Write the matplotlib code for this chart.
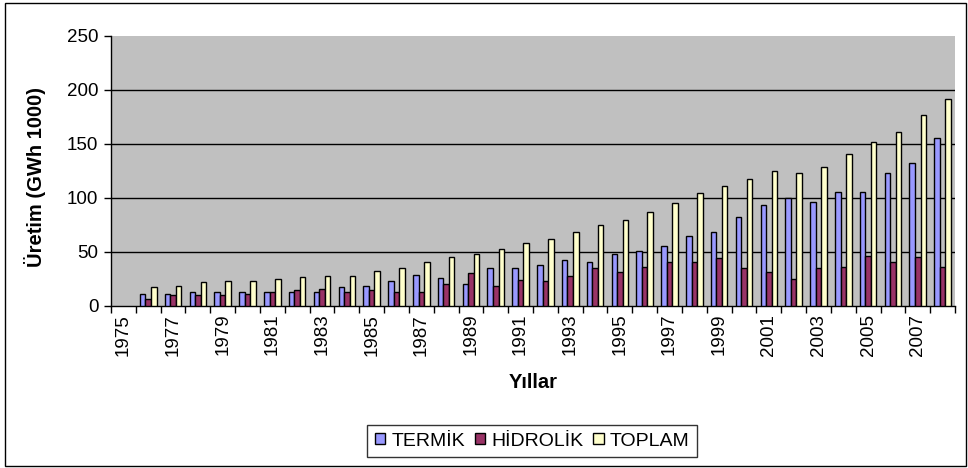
import numpy as np
import matplotlib
matplotlib.use("Agg")
import matplotlib.pyplot as plt
from matplotlib.patches import Rectangle

plt.rcParams['font.family'] = ['Liberation Sans', 'DejaVu Sans']

# values (GWh x 1000), 1975 has no bars
years = list(range(1975, 2009))
termik = [np.nan, 11.0, 11.0, 12.5, 12.5, 12.5, 12.5, 12.5, 12.5, 17.0, 18.4,
          23.0, 28.6, 25.8, 20.0, 34.5, 34.8, 37.6, 42.0, 40.4, 47.5, 50.9,
          55.2, 64.5, 68.5, 82.2, 93.6, 99.5, 96.4, 105.4, 105.4, 123.3, 132.3, 155.8]
hidrolik = [np.nan, 6.3, 9.7, 9.7, 9.7, 11.0, 12.5, 14.1, 15.6, 12.2, 14.1,
            12.2, 12.2, 20.0, 30.2, 18.4, 24.0, 22.7, 27.1, 34.5, 31.4, 36.0,
            40.5, 40.7, 43.8, 34.5, 31.4, 24.3, 34.5, 36.0, 46.3, 40.7, 44.7, 36.0]
toplam = [np.nan, 17.2, 18.4, 21.5, 22.7, 22.7, 24.3, 26.2, 27.4, 27.3, 31.7,
          34.6, 40.7, 44.7, 48.1, 52.5, 58.0, 61.5, 68.5, 74.5, 79.1, 86.5,
          94.9, 104.2, 111.2, 117.5, 124.9, 123.0, 128.9, 141.0, 151.5, 161.4, 176.6, 191.1]
series = [("TERMİK", termik, "#9999FF"),
          ("HİDROLİK", hidrolik, "#993366"),
          ("TOPLAM", toplam, "#FFFFCC")]

W, H = 968, 468
fig = plt.figure(figsize=(W / 100, H / 100), dpi=100)
ax = fig.add_axes([111 / W, 1 - 305.5 / H, (955 - 111) / W, (305.5 - 36) / H])
ax.set_facecolor("#C0C0C0")

x = np.arange(len(years))
bw = 1 / 4.5
for i, (name, vals, col) in enumerate(series):
    ax.bar(x + (i - 1) * bw, vals, width=bw, color=col, edgecolor="black",
           linewidth=1.0, label=name, zorder=3)

ax.set_xlim(-0.5, len(years) - 0.5)
ax.set_ylim(0, 250)
ax.set_yticks(np.arange(0, 251, 50))
for v in range(50, 250, 50):
    ax.axhline(v, color="black", linewidth=1.0, zorder=1)

ax.set_xticks(x[::2])
ax.set_xticklabels([str(y) for y in years[::2]], rotation=90)
ax.set_xticks(np.arange(-0.5, len(years), 1), minor=True)
ax.tick_params(axis="x", which="major", length=0, pad=6, labelsize=13.5)
ax.tick_params(axis="x", which="minor", length=5, width=1, direction="out")
ax.tick_params(axis="y", length=5, width=1, direction="out", labelsize=13.5, pad=4)

for s in ["top", "right"]:
    ax.spines[s].set_visible(False)
for s in ["left", "bottom"]:
    ax.spines[s].set_linewidth(1.0)

fig.text(35 / W, 1 - 177 / H, "Üretim (GWh 1000)", fontsize=14.5,
         fontweight="bold", rotation=90, ha="center", va="center")
fig.text(533 / W, 1 - 382 / H, "Yıllar", fontsize=14.5, fontweight="bold",
         ha="center", va="center")

leg = fig.legend(loc="center", bbox_to_anchor=(532 / W, 1 - 441 / H), ncol=3,
                 fontsize=14, frameon=True, fancybox=False, edgecolor="black",
                 handlelength=0.55, handleheight=0.55, handletextpad=0.3,
                 columnspacing=0.5, borderpad=0.4)
leg.get_frame().set_linewidth(1.0)

fig.patches.append(Rectangle((5 / W, 2 / H), 961 / W, 463 / H, fill=False,
                             edgecolor="black", linewidth=1.0,
                             transform=fig.transFigure))

fig.savefig("out.png", dpi=100)
